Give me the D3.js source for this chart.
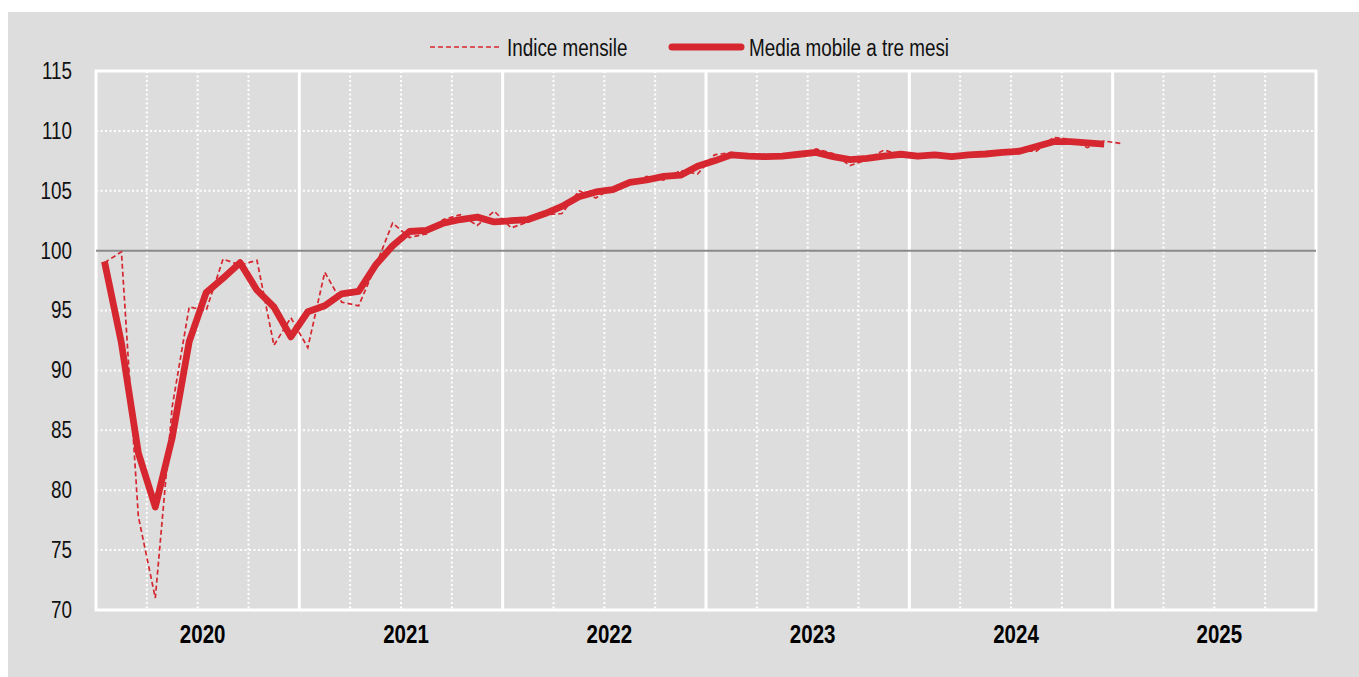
<!DOCTYPE html>
<html>
<head>
<meta charset="utf-8">
<script src="https://cdn.jsdelivr.net/npm/d3@7"></script>
<style>
  html, body { margin: 0; padding: 0; background: #ffffff; }
  svg { display: block; }
  .lbl { font-family: 'Liberation Sans', Arial, sans-serif; }
</style>
</head>
<body>
<svg id="chart" width="1359" height="677"></svg>
<script>
// ---- data ----
const years = ["2020", "2021", "2022", "2023", "2024", "2025"];
const yTicks = [70, 75, 80, 85, 90, 95, 100, 105, 110, 115];
const seriesNames = ["Indice mensile", "Media mobile a tre mesi"];

// monthly index, Jan 2020 .. Jan 2025
const indiceMensile = [
  99.0, 99.9, 77.8, 71.0, 87.0, 95.3, 95.0, 99.3, 98.8, 99.2, 92.1, 94.4,
  91.9, 98.2, 95.7, 95.4, 98.7, 102.3, 101.1, 101.4, 102.6, 103.0, 102.1, 103.3,
  101.9, 102.4, 103.0, 103.1, 105.0, 104.4, 105.3, 105.6, 106.2, 105.9, 106.7, 106.4,
  108.0, 108.2, 107.8, 107.7, 108.0, 108.0, 108.5, 108.1, 107.1, 107.6, 108.4, 108.0,
  107.7, 108.1, 107.8, 108.0, 108.2, 108.1, 108.3, 108.3, 109.45, 109.3, 108.6, 109.15,
  108.95
];
// three-month moving average, Jan 2020 .. Dec 2024
const mediaMobile = [
  99.1, 92.3, 83.1, 78.6, 84.4, 92.4, 96.5, 97.7, 99.0, 96.7, 95.3, 92.8,
  94.9, 95.4, 96.4, 96.6, 98.8, 100.4, 101.6, 101.7, 102.3, 102.6, 102.8, 102.4,
  102.5, 102.6, 103.1, 103.7, 104.5, 104.9, 105.1, 105.7, 105.9, 106.2, 106.3, 107.05,
  107.5, 108.0, 107.9, 107.85, 107.9, 108.05, 108.2, 107.85, 107.6, 107.7, 107.9, 108.05,
  107.9, 108.0, 107.85, 108.0, 108.07, 108.2, 108.3, 108.7, 109.1, 109.1, 109.0, 108.9
];

// ---- layout ----
const W = 1359, H = 677;
const pL = 96, pR = 1316, pT = 71, pB = 610;
const red = "#d6262f";
const NARROW = 0.82; // horizontal condensing to mimic a narrow face
const svg = d3.select("#chart");

svg.append("rect").attr("x", 0).attr("y", 0).attr("width", W).attr("height", H).attr("fill", "#ffffff");
svg.append("rect").attr("x", 8).attr("y", 12).attr("width", W - 8).attr("height", H - 12).attr("fill", "#dddddd");

const nMonths = years.length * 12;
const x = d3.scaleLinear().domain([0, nMonths]).range([pL, pR]);
const y = d3.scaleLinear().domain([70, 115]).range([pB, pT]);
const xYear = d3.scaleBand().domain(years).range([pL, pR]);

const grid = svg.append("g");
// horizontal dotted gridlines
grid.selectAll("line.h").data(yTicks.filter(v => v > 70 && v < 115 && v !== 100)).enter()
  .append("line")
  .attr("x1", pL).attr("x2", pR)
  .attr("y1", d => y(d)).attr("y2", d => y(d))
  .attr("stroke", "#ffffff").attr("stroke-width", 2).attr("stroke-dasharray", "2,2.5");
// quarterly dotted verticals
const quarterMarks = [];
years.forEach((yr, k) => { [3, 6, 9].forEach(m => quarterMarks.push(k * 12 + m)); });
grid.selectAll("line.q").data(quarterMarks).enter()
  .append("line")
  .attr("x1", d => x(d)).attr("x2", d => x(d))
  .attr("y1", pT).attr("y2", pB)
  .attr("stroke", "#ffffff").attr("stroke-width", 2).attr("stroke-dasharray", "2,2.5");
// year boundaries
grid.selectAll("line.y").data(d3.range(1, years.length)).enter()
  .append("line")
  .attr("x1", d => x(d * 12)).attr("x2", d => x(d * 12))
  .attr("y1", pT).attr("y2", pB)
  .attr("stroke", "#ffffff").attr("stroke-width", 3);
// frame
svg.append("rect").attr("x", pL).attr("y", pT).attr("width", pR - pL).attr("height", pB - pT)
  .attr("fill", "none").attr("stroke", "#ffffff").attr("stroke-width", 3);
// 100 reference line
svg.append("line").attr("x1", pL).attr("x2", pR).attr("y1", y(100)).attr("y2", y(100))
  .attr("stroke", "#8a8a8a").attr("stroke-width", 2);

// y axis labels
const yAxis = svg.append("g").attr("transform", `translate(${pL},0)`)
  .call(d3.axisLeft(y).tickValues(yTicks).tickSize(0).tickPadding(24).tickFormat(d3.format("d")));
yAxis.select(".domain").remove();
yAxis.selectAll("text").attr("class", "lbl").attr("font-size", 23).attr("fill", "#111")
  .attr("x", -24 / NARROW).attr("transform", `scale(${NARROW},1)`);

// x axis year labels
const xAxis = svg.append("g").attr("transform", `translate(5,${pB})`)
  .call(d3.axisBottom(xYear).tickSize(0).tickPadding(15));
xAxis.select(".domain").remove();
xAxis.selectAll("text").attr("class", "lbl").attr("font-size", 25).attr("font-weight", "bold").attr("fill", "#000")
  .attr("transform", `scale(${NARROW},1)`);

// lines
const lineGen = d3.line().x((d, i) => x(i + 0.5)).y(d => y(d));
svg.append("path").datum(indiceMensile).attr("d", lineGen)
  .attr("fill", "none").attr("stroke", red).attr("stroke-width", 1.7).attr("stroke-dasharray", "5,3");
svg.append("path").datum(mediaMobile).attr("d", lineGen)
  .attr("fill", "none").attr("stroke", red).attr("stroke-width", 6.8).attr("stroke-linejoin", "round");

// legend
const lg = svg.append("g");
lg.append("line").attr("x1", 430).attr("x2", 500).attr("y1", 47).attr("y2", 47)
  .attr("stroke", red).attr("stroke-width", 1.7).attr("stroke-dasharray", "5,3");
lg.append("text").attr("class", "lbl").attr("x", 507 / NARROW).attr("y", 56).attr("transform", `scale(${NARROW},1)`)
  .attr("font-size", 23).attr("fill", "#111").text(seriesNames[0]);
lg.append("line").attr("x1", 672).attr("x2", 741).attr("y1", 47).attr("y2", 47)
  .attr("stroke", red).attr("stroke-width", 7).attr("stroke-linecap", "round");
lg.append("text").attr("class", "lbl").attr("x", 749 / NARROW).attr("y", 56).attr("transform", `scale(${NARROW},1)`)
  .attr("font-size", 23).attr("fill", "#111").text(seriesNames[1]);
</script>
</body>
</html>
